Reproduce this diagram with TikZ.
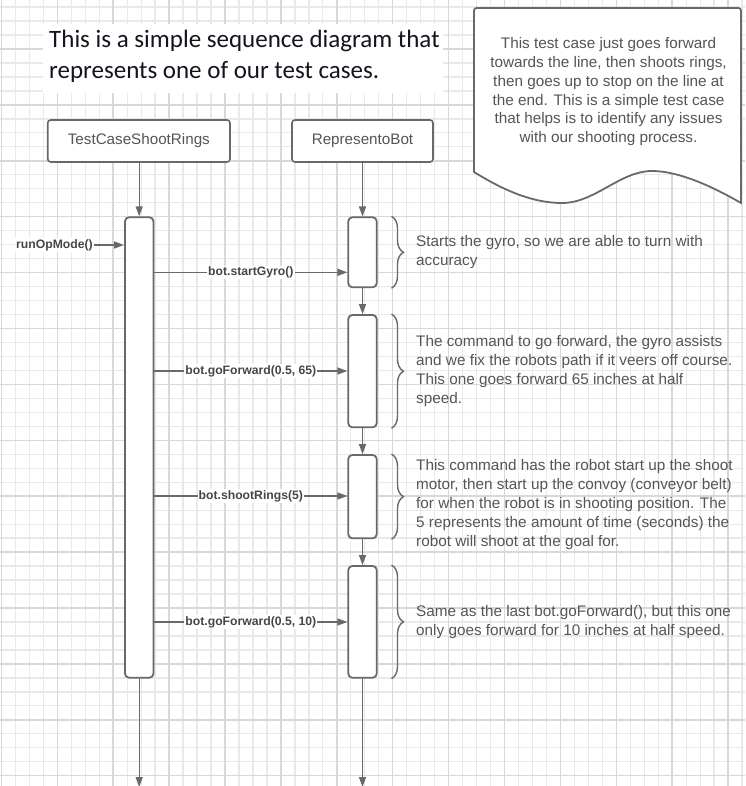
\documentclass[tikz,border=0pt]{standalone}
\usepackage{fontspec}
\setmainfont{Liberation Sans}
\newfontfamily\titlefont{Carlito}
\usetikzlibrary{arrows.meta,decorations.pathreplacing}
\definecolor{minorgrid}{RGB}{233,233,233}
\definecolor{majorgrid}{RGB}{216,216,216}
\definecolor{linegray}{RGB}{105,105,105}
\definecolor{txtgray}{RGB}{85,85,85}
\definecolor{lblgray}{RGB}{70,70,70}
\definecolor{titleink}{RGB}{20,20,30}
\begin{document}
\begin{tikzpicture}[x=1pt,y=-1pt,
  minorline/.style={minorgrid,line width=1.3pt},
  majorline/.style={majorgrid,line width=1.5pt},
  headbox/.style={draw=linegray,line width=1.6pt,rounded corners=3pt,fill=white,
    font=\fontsize{15.2}{18}\selectfont,text=txtgray,minimum height=42pt,inner sep=0pt},
  actbox/.style={draw=linegray,line width=1.8pt,rounded corners=4pt,fill=white,
    minimum width=28.4pt,inner sep=0pt},
  life/.style={draw=linegray,line width=1.4pt,-{Triangle[length=10pt,width=7pt]}},
  msg/.style={draw=linegray,line width=1.4pt,-{Triangle[length=10pt,width=7pt]}},
  lbl/.style={font=\bfseries\fontsize{12.2}{14}\selectfont,text=lblgray,fill=white,inner sep=1pt},
  annot/.style={font=\fontsize{15.3}{19}\selectfont,text=txtgray,align=left,inner sep=0pt,anchor=base west},
  bracestyle/.style={draw=linegray,line width=1.4pt,decorate,decoration={brace,amplitude=12pt}},
  notestyle/.style={draw=linegray,line width=1.8pt,fill=white}
]
\useasboundingbox (0,0) rectangle (745,786);
% grid
\foreach \k in {-1,...,53} {\draw[minorline] ({1.4+13.975*\k},0) -- ({1.4+13.975*\k},786);}
\foreach \k in {-3,...,52} {\draw[minorline] (0,{49+13.975*\k}) -- (745,{49+13.975*\k});}
\foreach \k in {0,...,13} {\draw[majorline] ({1.4+55.9*\k},0) -- ({1.4+55.9*\k},786);}
\foreach \k in {-1,...,13} {\draw[majorline] (0,{49+55.9*\k}) -- (745,{49+55.9*\k});}

% title
\node[fill=white,minimum width=400pt,minimum height=69pt,anchor=north west,inner sep=0pt] (titlebg) at (43,24) {};
\node[font=\titlefont\fontsize{25}{31}\selectfont,text=titleink,align=left,inner sep=0pt,anchor=base west] (title) at (49,79)
  {This is a simple sequence diagram that\\represents one of our test cases.};

% note shape
\draw[notestyle] (474,172) -- (474,14) .. controls (474,8) .. (480,8) -- (735,8) .. controls (741,8) .. (741,14) -- (741,203)
  .. controls (715,188) and (680,171) .. (652,171)
  .. controls (620,171) and (595,203) .. (562,203)
  .. controls (530,203) and (500,188) .. (474,172) -- cycle;
\node[font=\fontsize{15.3}{18.7}\selectfont,text=txtgray,align=center,inner sep=0pt,anchor=base] (notetext) at (608.5,142.5)
  {This test case just goes forward\\towards the line, then shoots rings,\\then goes up to stop on the line at\\the end. This is a simple test case\\that helps is to identify any issues\\with our shooting process.};

% lifeline heads
\node[headbox,minimum width=182.3pt] (tc) at (138.85,141) {TestCaseShootRings};
\node[headbox,minimum width=141pt] (rb) at (362.5,141) {RepresentoBot};

% activations
\node[actbox,minimum height=460.4pt] (actL) at (139.2,447.5) {};
\node[actbox,minimum height=70pt] (r1) at (362.5,252.3) {};
\node[actbox,minimum height=112.3pt] (r2) at (362.5,371.15) {};
\node[actbox,minimum height=83.3pt] (r3) at (362.5,496.65) {};
\node[actbox,minimum height=111.7pt] (r4) at (362.5,621.85) {};

\coordinate (endL) at (139.2,787);
\coordinate (endR) at (362.5,787);

% lifelines
\draw[life] (tc.south -| actL.north) -- (actL.north);
\draw[life] (actL.south) -- (endL);
\draw[life] (rb.south -| r1.north) -- (r1.north);
\draw[life] (r1.south) -- (r2.north);
\draw[life] (r2.south) -- (r3.north);
\draw[life] (r3.south) -- (r4.north);
\draw[life] (r4.south) -- (endR);

% messages
\node[lbl,anchor=west] (runop) at (15,245) {runOpMode()};
\draw[msg] (runop.east) -- (runop.east -| actL.west);

\coordinate (m1) at (0,272.3);
\coordinate (m2) at (0,371);
\coordinate (m3) at (0,496);
\coordinate (m4) at (0,622);
\draw[msg] (m1 -| actL.east) -- node[lbl] {bot.startGyro()} (m1 -| r1.west);
\draw[msg] (m2 -| actL.east) -- node[lbl] {bot.goForward(0.5, 65)} (m2 -| r2.west);
\draw[msg] (m3 -| actL.east) -- node[lbl] {bot.shootRings(5)} (m3 -| r3.west);
\draw[msg] (m4 -| actL.east) -- node[lbl] {bot.goForward(0.5, 10)} (m4 -| r4.west);

% braces
\coordinate (bx) at (391.5,0);
\draw[bracestyle] (r1.north -| bx) -- (r1.south -| bx);
\draw[bracestyle] (r2.north -| bx) -- (r2.south -| bx);
\draw[bracestyle] (r3.north -| bx) -- (r3.south -| bx);
\draw[bracestyle] (r4.north -| bx) -- (r4.south -| bx);

% annotations
\node[annot,font=\fontsize{15.3}{18}\selectfont] (a1) at (416,265) {Starts the gyro, so we are able to turn with\\accuracy};
\node[annot] (a2) at (416,403) {The command to go forward, the gyro assists\\and we fix the robots path if it veers off course.\\This one goes forward 65 inches at half\\speed.};
\node[annot] (a3) at (416,546) {This command has the robot start up the shoot\\motor, then start up the convoy (conveyor belt)\\for when the robot is in shooting position. The\\5 represents the amount of time (seconds) the\\robot will shoot at the goal for.};
\node[annot] (a4) at (416,635.7) {Same as the last bot.goForward(), but this one\\only goes forward for 10 inches at half speed.};
\end{tikzpicture}
\end{document}
